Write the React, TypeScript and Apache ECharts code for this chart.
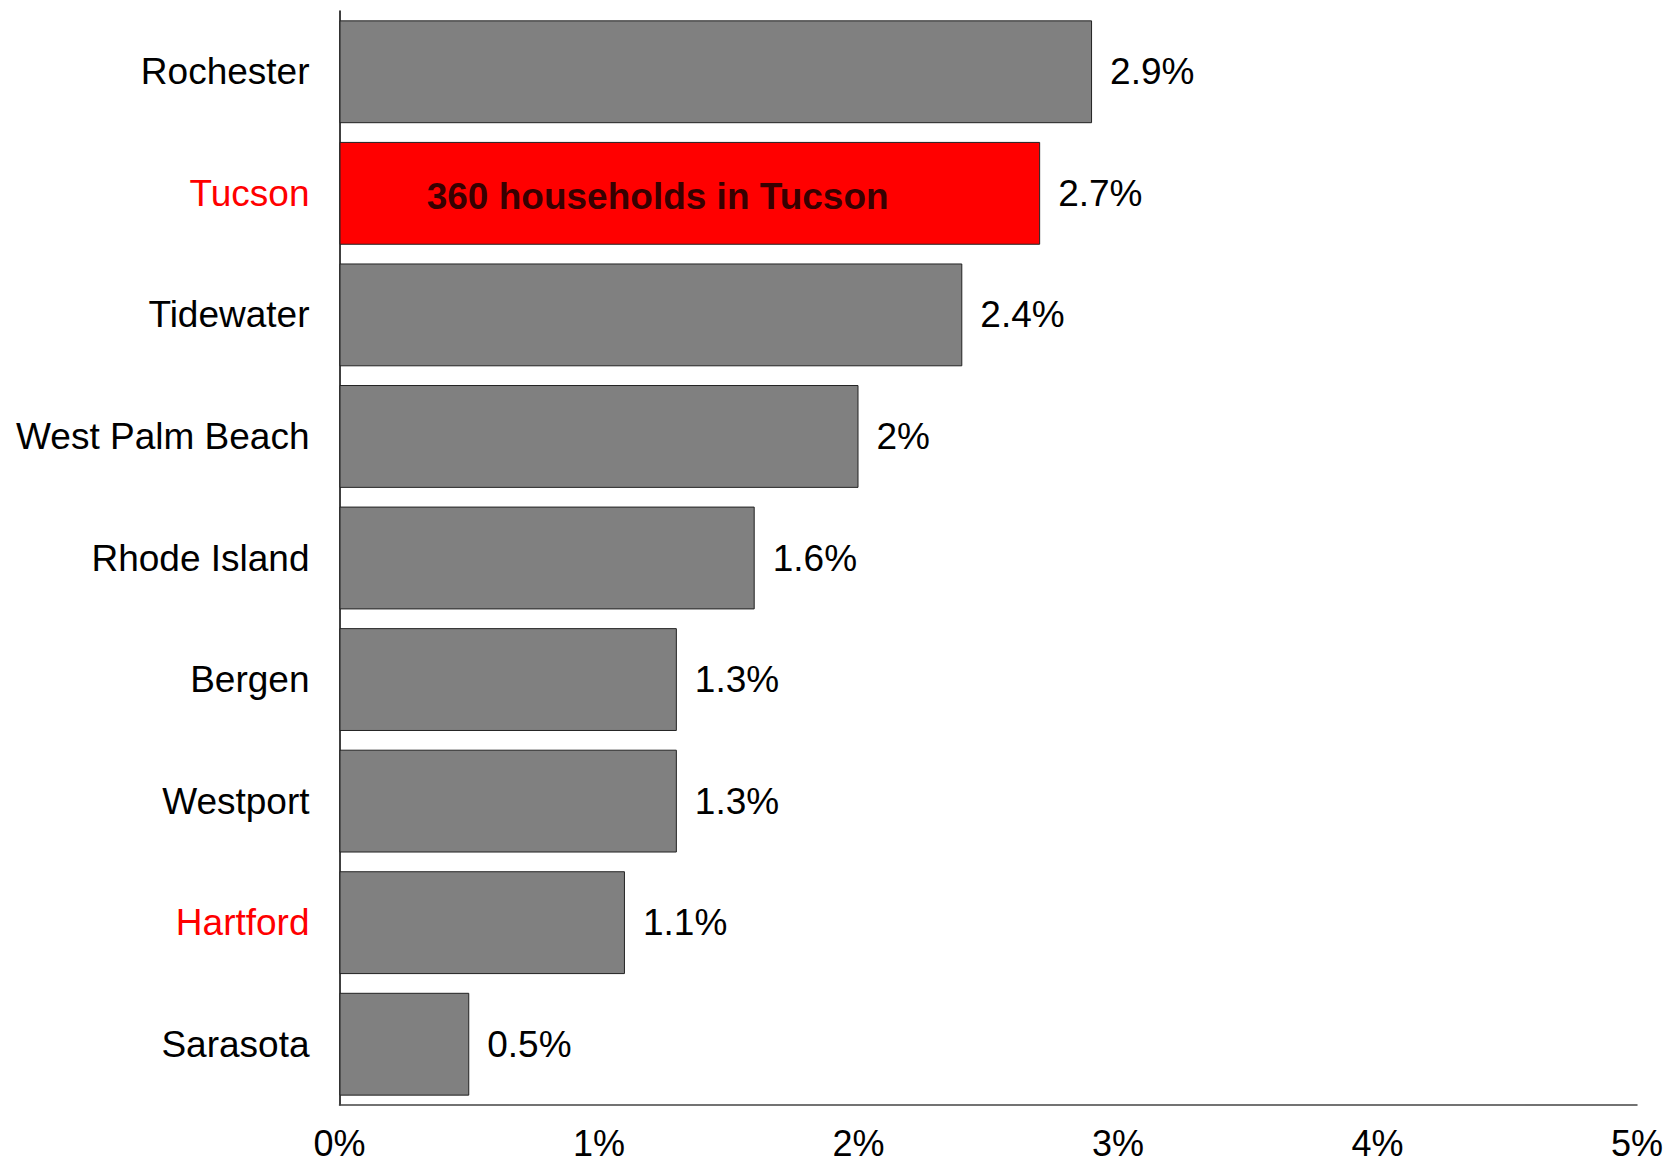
import React, { useEffect, useRef } from "react";
import * as echarts from "echarts";

const categories = [
  "Rochester",
  "Tucson",
  "Tidewater",
  "West Palm Beach",
  "Rhode Island",
  "Bergen",
  "Westport",
  "Hartford",
  "Sarasota",
];
const values = [2.9, 2.7, 2.4, 2.0, 1.6, 1.3, 1.3, 1.1, 0.5];
const highlighted = ["Tucson", "Hartford"];
const barHighlight = "Tucson";
const annotationText = "360 households in Tucson";
const annotationValue = 1.226;
const xTicks = [0, 1, 2, 3, 4, 5];

const FONT = "'Liberation Sans', Arial, sans-serif";

export default function App() {
  const ref = useRef<HTMLDivElement>(null);
  useEffect(() => {
    if (!ref.current) return;
    const chart = echarts.init(ref.current, null, { renderer: "svg" });
    chart.setOption({
      animation: false,
      backgroundColor: "#fff",
      grid: { left: 339.5, right: 32, top: 11, bottom: 58, containLabel: false },
      xAxis: {
        type: "value",
        min: xTicks[0],
        max: xTicks[xTicks.length - 1],
        interval: 1,
        axisLine: { show: true, lineStyle: { color: "#444", width: 1.5 } },
        axisTick: { show: false },
        splitLine: { show: false },
        axisLabel: {
          margin: 23,
          fontSize: 36,
          lineHeight: 30,
          fontFamily: FONT,
          color: "#000",
          formatter: (v: number) => `${v}%`,
        },
      },
      yAxis: {
        type: "category",
        data: categories,
        inverse: true,
        axisLine: { show: true, onZero: false, lineStyle: { color: "#000", width: 1.5 } },
        axisTick: { show: false },
        axisLabel: {
          margin: 30,
          fontSize: 37,
          fontFamily: FONT,
          color: (v: string) => (highlighted.includes(v) ? "#ff0000" : "#000"),
        },
      },
      series: [
        {
          type: "bar",
          barCategoryGap: "15.4%",
          data: values.map((v, i) => ({
            value: v,
            itemStyle: {
              color: categories[i] === barHighlight ? "#ff0000" : "#808080",
              borderColor: "#222",
              borderWidth: 1,
            },
          })),
          label: {
            show: true,
            position: "right",
            distance: 18,
            fontSize: 37,
            fontFamily: FONT,
            color: "#000",
            formatter: (p: any) => `${p.value}%`,
          },
        },
        {
          type: "scatter",
          symbolSize: 0,
          data: [[annotationValue, barHighlight]],
          silent: true,
          label: {
            show: true,
            position: "inside",
            offset: [0, 3],
            fontSize: 37,
            fontWeight: "bold",
            fontFamily: FONT,
            color: "#000",
            formatter: () => annotationText,
          },
        },
      ],
    });
    return () => chart.dispose();
  }, []);
  return (
    <div
      ref={ref}
      style={{ position: "absolute", left: 0, top: 0, width: 1669, height: 1163 }}
    />
  );
}
